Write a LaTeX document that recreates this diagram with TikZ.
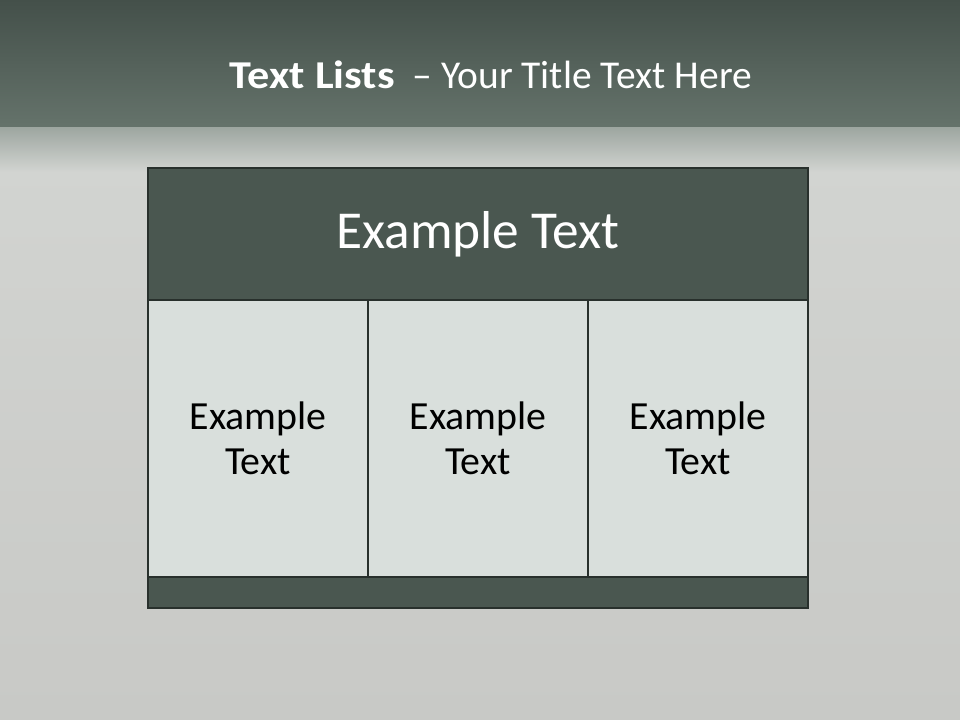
\documentclass[tikz,border=0pt]{standalone}
\usepackage{fontspec}
\setmainfont{Carlito}
\definecolor{bgtop}{HTML}{44504A}
\definecolor{bgband}{HTML}{65736B}
\definecolor{bgfade}{HTML}{9EA7A1}
\definecolor{bglow}{HTML}{C8C9C6}
\definecolor{bglight}{HTML}{D2D4D1}
\definecolor{hdrfill}{HTML}{4A5750}
\definecolor{edge}{HTML}{28302C}
\definecolor{cellfill}{HTML}{D9DFDC}
\tikzset{
  panel/.style={draw=edge, line width=2.2pt, inner sep=0pt, outer sep=0pt, rectangle},
  hdrbox/.style={panel, fill=hdrfill, minimum width=495pt, minimum height=99pt,
     text=white, font=\fontsize{40}{48}\selectfont},
  cellbox/.style={panel, fill=cellfill, minimum width=165pt, minimum height=207.75pt,
     text=black, align=center, font=\fontsize{29.9}{34}\selectfont},
  footbox/.style={panel, fill=hdrfill, minimum width=495pt, minimum height=23.25pt},
  titletext/.style={text=white, font=\fontsize{29.6}{35}\selectfont}
}
\begin{document}
\begin{tikzpicture}[x=0.75pt,y=-0.75pt]
\useasboundingbox (0,0) rectangle (960,720);
% background
\fill[bglow] (0,0) rectangle (960,720);
\shade[top color=bglight, bottom color=bglow] (0,160) rectangle (960,720);
\shade[top color=bgtop, bottom color=bgband] (0,0) rectangle (960,128);
\shade[top color=bgfade, bottom color=bglight] (0,128) rectangle (960,172);
% title
\node[titletext] (title) at (491,75) {\scalebox{1.12}[1]{\textbf{Text Lists}}\ \ – Your Title Text Here};
% table
\node[hdrbox] (hdr) at (478,234) {Example Text};
\node[cellbox] (c1) at (258,438.5) {Example\\Text};
\node[cellbox] (c2) at (478,438.5) {Example\\Text};
\node[cellbox] (c3) at (698,438.5) {Example\\Text};
\node[footbox] (foot) at (478,592.5) {};
\end{tikzpicture}
\end{document}
